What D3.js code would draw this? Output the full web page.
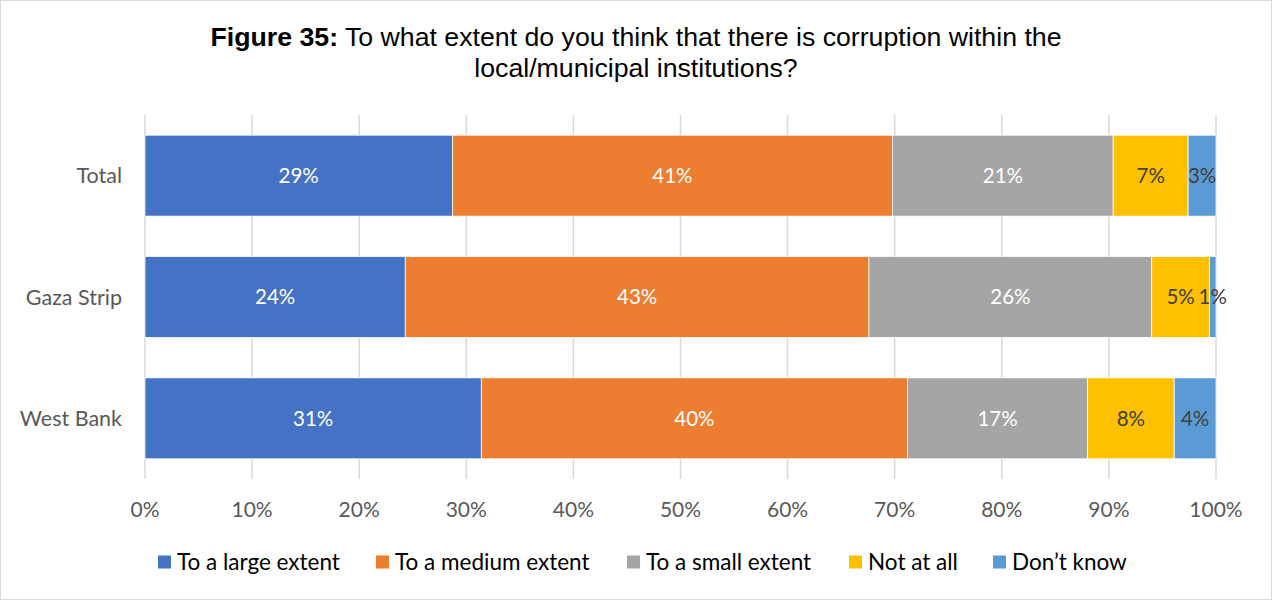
<!DOCTYPE html>
<html>
<head>
<meta charset="utf-8">
<script src="https://cdn.jsdelivr.net/npm/d3@7"></script>
<style>
  body { margin: 0; background: #fff; }
  svg { display: block; }
</style>
</head>
<body>
<div id="chart"></div>
<script>
// Chart data
const regions = ["Total", "Gaza Strip", "West Bank"];
const seriesNames = ["To a large extent", "To a medium extent", "To a small extent", "Not at all", "Don\u2019t know"];
const largeExtent = [28.7, 24.3, 31.4];
const mediumExtent = [41.1, 43.3, 39.8];
const smallExtent = [20.6, 26.4, 16.8];
const notAtAll = [7.0, 5.4, 8.1];
const dontKnow = [2.6, 0.6, 3.9];
const xTicks = [0, 10, 20, 30, 40, 50, 60, 70, 80, 90, 100];

const colors = ["#4472C4", "#ED7D31", "#A5A5A5", "#FFC000", "#5B9BD5"];
const labelColors = ["#fff", "#fff", "#fff", "#404040", "#404040"];

const width = 1272, height = 600;
const margin = { top: 115, right: 56, bottom: 121, left: 145 };

const svg = d3.select("#chart")
  .append("svg")
  .attr("width", width)
  .attr("height", height);

// chart border
svg.append("rect")
  .attr("x", 0.5).attr("y", 0.5)
  .attr("width", width - 1).attr("height", height - 1)
  .attr("fill", "#fff")
  .attr("stroke", "#d9d9d9");

// title
const title = svg.append("text")
  .attr("text-anchor", "middle")
  .style("font-family", "Liberation Sans, Arial, sans-serif")
  .style("font-size", "26.7px")
  .style("fill", "#000");
const t1 = title.append("tspan").attr("x", 636).attr("y", 46);
t1.append("tspan").style("font-weight", "bold").text("Figure 35:");
t1.append("tspan").text(" To what extent do you think that there is corruption within the");
title.append("tspan").attr("x", 636).attr("y", 77).text("local/municipal institutions?");

// build stacked data
const rows = regions.map((r, i) => ({
  region: r,
  values: [largeExtent[i], mediumExtent[i], smallExtent[i], notAtAll[i], dontKnow[i]]
}));
const table = rows.map(d => {
  const o = { region: d.region };
  seriesNames.forEach((s, j) => o[s] = d.values[j]);
  return o;
});
const stacked = d3.stack().keys(seriesNames)(table);

const x = d3.scaleLinear()
  .domain([0, 100])
  .range([margin.left, width - margin.right]);

const y = d3.scaleBand()
  .domain(regions)
  .range([margin.top, height - margin.bottom])
  .paddingInner(0.333)
  .paddingOuter(0.1665);

// gridlines
svg.append("g")
  .selectAll("line")
  .data(xTicks)
  .enter()
  .append("line")
  .attr("x1", d => x(d))
  .attr("x2", d => x(d))
  .attr("y1", margin.top)
  .attr("y2", height - margin.bottom)
  .attr("stroke", "#d9d9d9")
  .attr("stroke-width", 1.5);

// bars
const layers = svg.append("g")
  .selectAll("g")
  .data(stacked)
  .enter()
  .append("g")
  .attr("fill", (d, i) => colors[i]);

layers.selectAll("rect")
  .data(d => d)
  .enter()
  .append("rect")
  .attr("x", d => x(d[0]))
  .attr("width", d => x(d[1]) - x(d[0]))
  .attr("y", d => y(d.data.region))
  .attr("height", y.bandwidth())
  .attr("stroke", "#fff")
  .attr("stroke-width", 0.75);

// data labels
stacked.forEach((layer, i) => {
  svg.append("g")
    .selectAll("text")
    .data(layer)
    .enter()
    .append("text")
    .attr("x", d => x((d[0] + d[1]) / 2))
    .attr("y", d => y(d.data.region) + y.bandwidth() / 2)
    .attr("dy", "0.35em")
    .attr("text-anchor", "middle")
    .style("font-family", "Lato, 'Open Sans', sans-serif")
    .style("font-size", "20.5px")
    .style("fill", labelColors[i])
    .text(d => Math.round(d[1] - d[0]) + "%");
});

// category axis
svg.append("g")
  .selectAll("text")
  .data(regions)
  .enter()
  .append("text")
  .attr("x", 122)
  .attr("y", d => y(d) + y.bandwidth() / 2)
  .attr("dy", "0.35em")
  .attr("text-anchor", "end")
  .style("font-family", "Lato, 'Open Sans', sans-serif")
  .style("font-size", "21.5px")
  .style("fill", "#595959")
  .text(d => d);

// value axis labels
svg.append("g")
  .selectAll("text")
  .data(xTicks)
  .enter()
  .append("text")
  .attr("x", d => x(d))
  .attr("y", 510)
  .attr("dy", "0.35em")
  .attr("text-anchor", "middle")
  .style("font-family", "Lato, 'Open Sans', sans-serif")
  .style("font-size", "21px")
  .style("fill", "#595959")
  .text(d => d + "%");

// legend
const legendX = [158, 376, 627, 849, 993];
const legend = svg.append("g")
  .selectAll("g")
  .data(seriesNames)
  .enter()
  .append("g")
  .attr("transform", (d, i) => `translate(${legendX[i]},562)`);

legend.append("rect")
  .attr("x", 0).attr("y", -6.5)
  .attr("width", 13).attr("height", 13)
  .attr("fill", (d, i) => colors[i]);

legend.append("text")
  .attr("x", 19)
  .attr("dy", "0.35em")
  .style("font-family", "Lato, 'Open Sans', sans-serif")
  .style("font-size", "22.5px")
  .style("fill", "#000")
  .text(d => d);
</script>
</body>
</html>
